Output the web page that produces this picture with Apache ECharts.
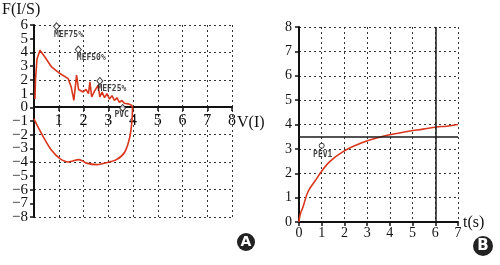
<!DOCTYPE html>
<html><head><meta charset="utf-8">
<script src="https://cdn.jsdelivr.net/npm/echarts@6/dist/echarts.min.js"></script>
<style>html,body{margin:0;padding:0;background:#fff}#c{width:500px;height:265px}</style>
</head><body><div id="c"></div>
<script>
// Flow-volume loop (chart A)
var expX = [0.04,0.06,0.12,0.24,0.3,0.44,0.71,1.05,1.38,1.5,1.61,1.72,1.8,1.99,2.1,2.2,2.26,2.33,2.45,2.59,2.66,2.75,2.85,2.95,3.05,3.15,3.25,3.35,3.45,3.55,3.65,3.8,3.95,3.98];
var expY = [0.6,2.0,3.5,4.16,4.1,3.67,2.94,2.46,2.09,1.5,0.5,2.34,1.3,1.12,1.3,1.0,1.85,0.75,1.2,1.6,0.75,1.1,0.7,1.0,0.6,0.85,0.5,0.7,0.35,0.5,0.3,0.25,0.15,0.0];
var inspX = [3.98,3.96,3.87,3.67,3.33,2.93,2.53,2.12,1.95,1.79,1.6,1.38,1.05,0.71,0.38,0.15,0.0];
var inspY = [0.0,-0.95,-2.17,-3.26,-3.82,-4.04,-4.18,-4.07,-3.9,-3.82,-3.9,-3.99,-3.75,-3.14,-2.17,-1.4,-0.85];
var markNames = ['MEF75%','MEF50%','MEF25%','PVC'];
var markX = [0.91,1.79,2.66,3.58];
var markY = [5.9,4.21,1.92,-0.05];
var markOffsets = [[12,9],[13,8],[12,8],[-1,7]];
// Volume-time curve (chart B)
var tX = [0,0.05,0.18,0.4,0.69,0.99,1.35,1.94,2.53,3.11,3.7,4.29,4.88,5.46,6.05,6.5,7.0];
var tY = [0,0.3,0.63,1.25,1.66,2.07,2.48,2.89,3.16,3.36,3.52,3.63,3.73,3.81,3.9,3.93,4.0];
var pev1 = [1, 3.13];
var atsX = 6;
var refY = 3.5;
var leftXTicks = [0,8];
var leftYTicks = [-8,6];
var leftYLabels = ['-8','-7','-6','-5','-4','-3','-2','-1','0','1','2','3','4','5','6'];
var rightXTicks = [0,7];
var rightYTicks = [0,8];

function pairs(xs, ys){ return xs.map(function(x,i){return [x, ys[i]];}); }
var RED = '#d9361c';
var GRID = {color:'#333', width:1, type:[2,3]};
var serif = 'Liberation Serif';
var small = {fontFamily:'DejaVu Sans Mono', fontSize:8, fontWeight:'bold', color:'#111'};
function minusStr(s){ return s.charAt(0)==='-' ? '\u2212' + s.slice(1) : s; }

var chart = echarts.init(document.getElementById('c'));
chart.setOption({
  backgroundColor:'#fff',
  animation:false,
  grid:[
    {left:34, top:25, width:198, height:192},
    {left:299, top:27, width:159, height:195}
  ],
  xAxis:[
    {gridIndex:0, type:'value', min:leftXTicks[0], max:leftXTicks[1], interval:1,
     axisLine:{show:false},
     axisTick:{show:false},
     axisLabel:{show:false},
     splitLine:{show:true, lineStyle:GRID}},
    {gridIndex:1, type:'value', min:rightXTicks[0], max:rightXTicks[1], interval:1,
     axisLine:{lineStyle:{color:'#111', width:2}},
     axisTick:{length:4, lineStyle:{color:'#111', width:1.5}},
     axisLabel:{margin:4, fontFamily:serif, fontSize:14, color:'#111'},
     splitLine:{show:true, lineStyle:GRID}},
    {gridIndex:0, type:'value', min:leftXTicks[0], max:leftXTicks[1], interval:1,
     position:'bottom', offset:-110,
     axisLine:{onZero:false, lineStyle:{color:'#111', width:2}},
     axisTick:{length:4, lineStyle:{color:'#111', width:1.5}},
     axisLabel:{margin:6, fontFamily:serif, fontSize:16, color:'#111',
       formatter:function(v){return v===0?'':''+v;}},
     splitLine:{show:false}}
  ],
  yAxis:[
    {gridIndex:0, type:'value', min:leftYTicks[0], max:leftYTicks[1], interval:1,
     axisLine:{show:false}, axisTick:{show:false}, axisLabel:{show:false},
     splitLine:{show:false}},
    {gridIndex:0, type:'value', min:leftYTicks[0], max:leftYTicks[1], interval:2,
     axisLine:{show:false}, axisTick:{show:false}, axisLabel:{show:false},
     splitLine:{show:true, lineStyle:GRID}},
    {gridIndex:1, type:'value', min:rightYTicks[0], max:rightYTicks[1], interval:1,
     axisLine:{show:true, lineStyle:{color:'#111', width:2}},
     axisTick:{show:true, length:4, lineStyle:{color:'#111', width:1.5}},
     axisLabel:{margin:7, fontFamily:serif, fontSize:14, color:'#111'},
     splitLine:{show:true, lineStyle:GRID}},
    {gridIndex:0, type:'category', data:leftYLabels, boundaryGap:false, position:'left',
     axisLine:{show:true, onZero:false, lineStyle:{color:'#111', width:2}},
     axisTick:{show:true, length:4, interval:0, lineStyle:{color:'#111', width:1.5}},
     axisLabel:{margin:6, interval:0, fontFamily:serif, fontSize:15, color:'#111', formatter:minusStr},
     splitLine:{show:false}}
  ],
  series:[
    {type:'line', xAxisIndex:0, yAxisIndex:0, data:pairs(expX, expY), showSymbol:false,
     lineStyle:{color:RED, width:1.6}, silent:true},
    {type:'line', xAxisIndex:0, yAxisIndex:0, data:pairs(inspX, inspY), showSymbol:false, smooth:0.3,
     lineStyle:{color:RED, width:1.6}, silent:true},
    {type:'scatter', xAxisIndex:0, yAxisIndex:0, symbol:'diamond', symbolSize:[6,7],
     itemStyle:{color:'#fff', borderColor:'#111', borderWidth:1},
     data:markX.map(function(x,i){return {value:[x, markY[i]], name:markNames[i],
       label:{show:true, formatter:markNames[i], position:'inside', offset:markOffsets[i]}};}),
     label:small, z:5},
    {type:'scatter', xAxisIndex:0, yAxisIndex:0, symbol:'none',
     data:[{value:[7.66, 6], label:{show:true, formatter:'PEF', position:'inside', offset:[0,-4]}}],
     label:small},
    {type:'line', xAxisIndex:1, yAxisIndex:2, data:pairs(tX, tY), showSymbol:false, smooth:0.4,
     lineStyle:{color:RED, width:1.6}, silent:true, z:3,
     markLine:{silent:true, symbol:'none', label:{show:false},
       lineStyle:{color:'#1a1a1a', width:1.5, type:'solid'},
       data:[{xAxis:atsX},{yAxis:refY}]}},
    {type:'scatter', xAxisIndex:1, yAxisIndex:2, symbol:'circle', symbolSize:5,
     itemStyle:{color:'#fff', borderColor:'#111', borderWidth:1},
     data:[{value:pev1, label:{show:true, formatter:'PEV1', position:'inside', offset:[1,9]}}],
     label:small, z:5},
    {type:'scatter', xAxisIndex:1, yAxisIndex:2, symbol:'none',
     data:[{value:[atsX, 0], label:{show:true, formatter:'ATS', position:'inside', offset:[9,7]}}],
     label:{fontFamily:'DejaVu Sans Mono', fontSize:7, fontWeight:'bold', color:'#111'}}
  ],
  graphic:[
    {type:'text', left:2, top:2, style:{text:'F(I/S)', font:'16px "Liberation Serif"', fill:'#111'}},
    {type:'text', left:237, top:115, style:{text:'V(I)', font:'16px "Liberation Serif"', fill:'#111'}},
    {type:'text', left:463, top:215, style:{text:'t(s)', font:'16px "Liberation Serif"', fill:'#111'}},
    {type:'group', left:237, top:233, children:[
      {type:'circle', shape:{cx:9, cy:9, r:9}, style:{fill:'#222'}},
      {type:'text', style:{text:'A', x:9, y:9, align:'center', verticalAlign:'middle', font:'bold 14px "DejaVu Sans"', fill:'#fff'}}
    ]},
    {type:'group', left:473, top:236, children:[
      {type:'circle', shape:{cx:10, cy:10, r:10}, style:{fill:'#222'}},
      {type:'text', style:{text:'B', x:10, y:10, align:'center', verticalAlign:'middle', font:'bold 15px "DejaVu Sans"', fill:'#fff'}}
    ]}
  ]
});
</script></body></html>
